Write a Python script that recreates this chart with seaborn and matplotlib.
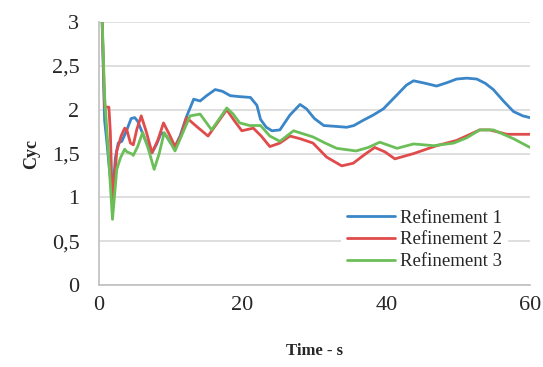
import matplotlib
matplotlib.use('Agg')
import matplotlib.pyplot as plt
import seaborn as sns
import pandas as pd

# Refinement 1 (blue)
t1 = [0.4, 0.8, 1.1, 1.5, 1.9, 2.3, 2.7, 3.2, 3.8, 4.5, 5.0, 5.4, 5.7, 6.5, 7.4, 8.0, 8.7, 9.4,
      10.0, 10.6, 11.3, 12.2, 13.2, 14.1, 15.0, 16.2, 17.2, 18.3, 19.5, 21.1, 22.0, 22.5, 23.3,
      24.1, 25.2, 26.6, 28.0, 28.9, 30.0, 31.3, 33.0, 34.5, 35.5, 36.8, 38.2, 39.6, 41.5, 42.8,
      43.8, 45.5, 47.0, 48.5, 49.8, 51.2, 52.6, 53.8, 54.9, 56.3, 57.7, 59.0, 60.0]
y1 = [3.2, 1.88, 1.65, 1.30, 1.01, 1.45, 1.62, 1.64, 1.75, 1.90, 1.91, 1.87, 1.81, 1.65, 1.51,
      1.60, 1.74, 1.70, 1.62, 1.58, 1.70, 1.92, 2.12, 2.10, 2.16, 2.23, 2.21, 2.16, 2.15, 2.14,
      2.05, 1.89, 1.80, 1.76, 1.77, 1.94, 2.06, 2.01, 1.90, 1.82, 1.81, 1.80, 1.82, 1.88, 1.94,
      2.01, 2.17, 2.28, 2.33, 2.30, 2.27, 2.31, 2.35, 2.36, 2.35, 2.30, 2.23, 2.10, 1.98, 1.93,
      1.91]

# Refinement 2 (red)
t2 = [0.4, 0.8, 1.4, 1.6, 1.9, 2.5, 3.1, 3.6, 3.9, 4.4, 4.8, 5.3, 5.9, 6.6, 7.4, 8.2, 9.0, 9.8,
      10.6, 11.4, 12.2, 13.6, 15.2, 16.5, 17.8, 18.9, 19.9, 21.5, 22.6, 23.8, 25.2, 26.6, 28.0,
      29.8, 31.7, 33.8, 35.4, 37.0, 38.4, 39.8, 41.2, 43.8, 47.0, 49.8, 53.0, 54.4, 56.8, 60.0]
y2 = [3.2, 2.03, 2.03, 1.75, 0.90, 1.53, 1.70, 1.79, 1.77, 1.62, 1.60, 1.78, 1.93, 1.75, 1.51,
      1.65, 1.85, 1.72, 1.58, 1.70, 1.91, 1.81, 1.70, 1.85, 2.00, 1.87, 1.76, 1.79, 1.70, 1.58,
      1.62, 1.70, 1.67, 1.62, 1.46, 1.36, 1.39, 1.49, 1.57, 1.52, 1.44, 1.50, 1.59, 1.65, 1.77,
      1.77, 1.72, 1.72]

# Refinement 3 (green)
t3 = [0.4, 0.8, 1.3, 1.9, 2.5, 3.0, 3.6, 3.9, 4.5, 4.8, 5.4, 6.1, 6.9, 7.7, 8.4, 9.1, 9.8, 10.6,
      11.6, 12.7, 14.1, 15.7, 16.8, 17.8, 18.7, 19.6, 21.0, 22.5, 23.8, 25.2, 27.1, 29.8, 31.5,
      33.1, 35.8, 37.5, 39.1, 41.5, 43.8, 46.6, 49.4, 51.2, 53.0, 54.9, 57.7, 60.0]
y3 = [3.2, 2.16, 1.55, 0.75, 1.32, 1.45, 1.55, 1.52, 1.50, 1.48, 1.58, 1.74, 1.55, 1.32, 1.50,
      1.74, 1.65, 1.53, 1.72, 1.93, 1.95, 1.77, 1.90, 2.02, 1.95, 1.85, 1.82, 1.82, 1.70, 1.64,
      1.76, 1.69, 1.62, 1.56, 1.53, 1.57, 1.63, 1.56, 1.61, 1.59, 1.62, 1.68, 1.77, 1.77, 1.67,
      1.57]

names = ['Refinement 1', 'Refinement 2', 'Refinement 3']
colors = ['#3a86c8', '#e04b4b', '#6cbf58']
x_ticks = [0, 20, 40, 60]
y_ticks = [0, 0.5, 1, 1.5, 2, 2.5, 3]
y_labels = ['0', '0,5', '1', '1,5', '2', '2,5', '3']

df = pd.concat([
    pd.DataFrame({'t': t, 'y': y, 'series': n})
    for t, y, n in zip([t1, t2, t3], [y1, y2, y3], names)
])

sns.set_style('white')
plt.rcParams['font.family'] = ['Liberation Serif', 'DejaVu Serif']

fig, ax = plt.subplots(figsize=(5.43, 3.67), dpi=100)
fig.subplots_adjust(left=0.182, right=0.976, top=0.94, bottom=0.223)

sns.lineplot(data=df, x='t', y='y', hue='series', palette=colors, sort=False,
             linewidth=2.0, ax=ax, estimator=None)
for ln in ax.lines:
    ln.set_solid_joinstyle('round')

ax.set_xlim(0, 60)
ax.set_ylim(0, 3)
ax.set_xticks(x_ticks)
ax.set_yticks(y_ticks)
ax.set_yticklabels(y_labels)
ax.tick_params(axis='both', length=0, labelsize=16)
ax.tick_params(axis='y', pad=14)
ax.tick_params(axis='x', pad=8)
ax.grid(axis='y', color='#d9d9d9', linewidth=1.2)
ax.set_axisbelow(True)
for s in ['top', 'right']:
    ax.spines[s].set_visible(False)
for s in ['left', 'bottom']:
    ax.spines[s].set_color('#bfbfbf')
    ax.spines[s].set_linewidth(1.2)

ax.set_xlabel('Time - s', fontsize=12, fontweight='bold', labelpad=20)
ax.set_ylabel('Cyc', fontsize=13, fontweight='bold', labelpad=8)

leg = ax.legend(loc='lower right', bbox_to_anchor=(0.97, 0.0), fontsize=13.5,
                frameon=True, facecolor='white', edgecolor='none', framealpha=1,
                handlelength=2.6, handletextpad=0.25, labelspacing=0.25,
                borderpad=0.3)
leg.set_zorder(5)

fig.savefig('out.png', dpi=100)
